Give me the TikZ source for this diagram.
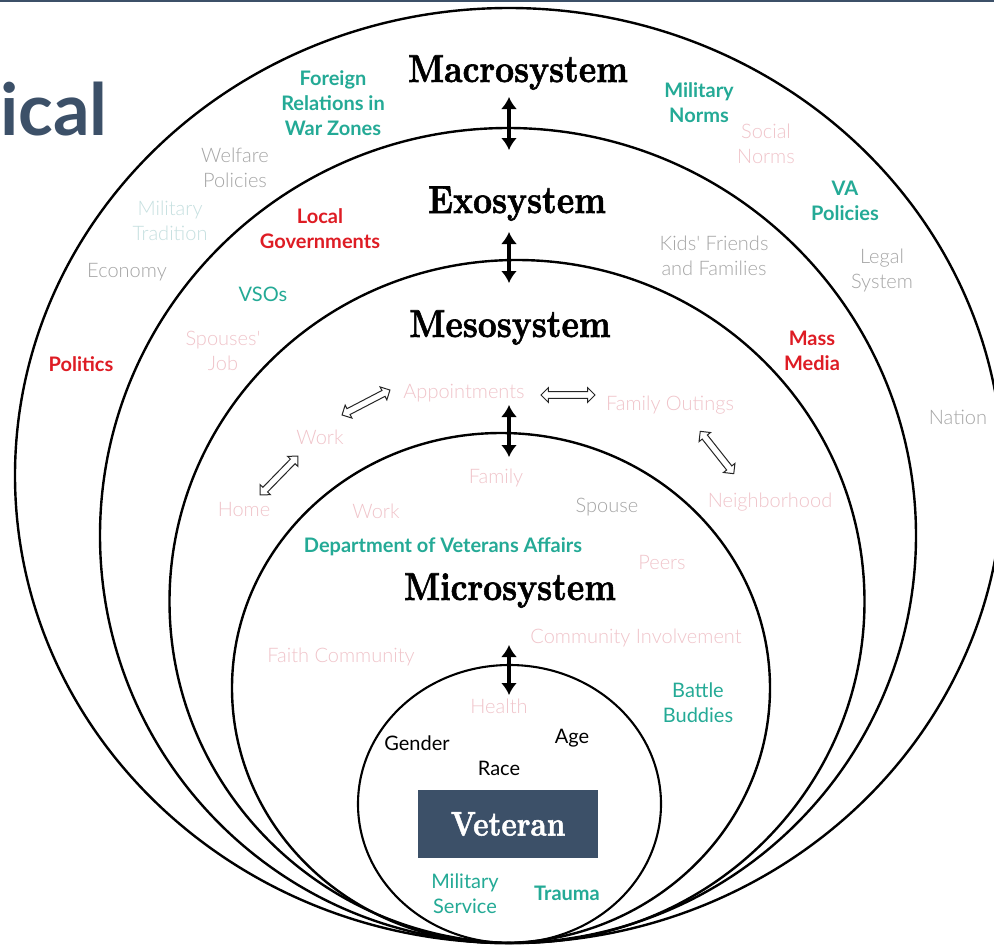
\documentclass[tikz,border=0pt]{standalone}
\usepackage{fontspec}
\usepackage{graphicx}
\usetikzlibrary{arrows.meta,shapes.arrows,calc}
\newfontfamily\lato{Lato}
\IfFontExistsTF{Lato Light}{\newfontfamily\latol{Lato Light}}{\newfontfamily\latol{Lato}}
\IfFontExistsTF{lmroman10-bold.otf}{\newfontfamily\dispf{lmroman10-bold.otf}[FakeBold=1.6]}{\newfontfamily\dispf{Liberation Serif Bold}}
\definecolor{slate}{RGB}{60,80,104}
\definecolor{tealc}{RGB}{36,170,150}
\definecolor{redc}{RGB}{222,28,36}
\definecolor{pinkc}{RGB}{240,196,202}
\definecolor{greyc}{RGB}{165,165,165}
\definecolor{mtc}{RGB}{198,224,224}
\newcommand{\ml}[1]{\begin{tabular}[t]{@{}c@{}}#1\end{tabular}}
\newcommand{\sysname}[1]{\scalebox{1}[1.18]{#1}}
\begin{document}
\begin{tikzpicture}[x=1pt,y=-1pt,
  ring/.style={draw=black,line width=2.4pt},
  lab/.style={anchor=base,inner sep=0pt,font=\latol\fontsize{20}{25}\selectfont},
  reg/.style={anchor=base,inner sep=0pt,font=\lato\fontsize{20}{25}\selectfont},
  bld/.style={anchor=base,inner sep=0pt,font=\lato\bfseries\fontsize{20}{25}\selectfont},
  sys/.style={anchor=base,inner sep=0pt,font=\dispf\fontsize{33}{33}\selectfont},
  bigarrow/.style={line width=4.8pt,{Latex[length=12pt,width=16pt]}-{Latex[length=12pt,width=16pt]}},
  hollow/.style={double arrow,draw=black!85,line width=1pt,fill=white,inner sep=2.8pt,
     double arrow head extend=4pt,minimum height=54pt}
]
\useasboundingbox (0,0) rectangle (994,946);
\fill[white] (0,0) rectangle (994,946);
\fill[slate] (0,0) rectangle (994,2);

% rings
\draw[ring] (509,475.5) ellipse [x radius=494, y radius=467.5];
\draw[ring] (508,535.5) ellipse [x radius=408, y radius=407.5];
\draw[ring] (517,601.5) ellipse [x radius=347.5, y radius=341.5];
\draw[ring] (501,688) ellipse [x radius=269, y radius=255];
\draw[ring,line width=2.1pt] (509.5,804) ellipse [x radius=151.5, y radius=139];

% title fragment
\node[anchor=base east,inner sep=0pt,text=slate,font=\lato\bfseries\fontsize{72}{72}\selectfont] (title) at (108,135) {ical};

% system names
\node[sys] (macro) at (518,82) {\sysname{Macrosystem}};
\node[sys] (exo) at (517,213) {\sysname{Exosystem}};
\node[sys] (meso) at (510,337) {\sysname{Mesosystem}};
\node[sys] (micro) at (510,600) {\sysname{Microsystem}};

% macrosystem ring
\node[bld,text=tealc] (foreign) at (333,85) {\ml{Foreign\\Relations in\\War Zones}};
\node[lab,text=greyc] (welfare) at (235,162) {\ml{Welfare\\Policies}};
\node[lab,text=mtc] (miltrad) at (170,215) {\ml{Military\\Tradition}};
\node[lab,text=greyc] (economy) at (127,277) {Economy};
\node[bld,text=redc] (politics) at (81,371) {Politics};
\node[bld,text=tealc] (milnorms) at (699,97) {\ml{Military\\Norms}};
\node[lab,text=pinkc] (socnorms) at (766,138) {\ml{Social\\Norms}};
\node[bld,text=tealc] (vapol) at (845,195) {\ml{VA\\Policies}};
\node[lab,text=greyc] (legal) at (882,263) {\ml{Legal\\System}};
\node[lab,text=greyc] (nation) at (958,424) {Nation};

% exosystem ring
\node[bld,text=redc] (localgov) at (320,223) {\ml{Local\\Governments}};
\node[reg,text=tealc] (vsos) at (263,301) {VSOs};
\node[lab,text=greyc] (kids) at (714,250) {\ml{Kids' Friends\\and Families}};
\node[lab,text=pinkc] (spjob) at (223,345) {\ml{Spouses'\\Job}};
\node[bld,text=redc] (media) at (812,345) {\ml{Mass\\Media}};

% mesosystem ring
\node[lab,text=pinkc] (appts) at (464,398) {Appointments};
\node[lab,text=pinkc] (workA) at (320,444) {Work};
\node[lab,text=pinkc] (home) at (244,516) {Home};
\node[lab,text=pinkc] (outings) at (670,410) {Family Outings};
\node[lab,text=pinkc] (neigh) at (770,507) {Neighborhood};

% microsystem ring
\node[lab,text=pinkc] (family) at (496,483) {Family};
\node[lab,text=pinkc] (workB) at (376,518) {Work};
\node[lab,text=greyc] (spouse) at (607,512) {Spouse};
\node[bld,text=tealc] (dva) at (443,552) {Department of Veterans Affairs};
\node[lab,text=pinkc] (peers) at (662,569) {Peers};
\node[lab,text=pinkc] (faith) at (341,662) {Faith Community};
\node[lab,text=pinkc] (comm) at (636,643) {Community Involvement};
\node[reg,text=tealc] (battle) at (698,697) {\ml{Battle\\Buddies}};

% individual
\node[lab,text=pinkc] (health) at (499,713) {Health};
\node[reg,text=black] (gender) at (417,750) {Gender};
\node[reg,text=black] (age) at (572,743) {Age};
\node[reg,text=black] (race) at (499,775) {Race};
\node[fill=slate,minimum width=180pt,minimum height=68pt,inner sep=0pt,text=white,
      font=\dispf\fontsize{29}{29}\selectfont] (veteran) at (508,824) {\sysname{Veteran}};
\node[reg,text=tealc] (milserv) at (465,888) {\ml{Military\\Service}};
\node[bld,text=tealc] (trauma) at (567,900) {Trauma};

% big double arrows between levels
\coordinate (a1t) at (509,97);  \coordinate (a1b) at (509,150);
\coordinate (a2t) at (509,232); \coordinate (a2b) at (509,283);
\coordinate (a3t) at (509,405); \coordinate (a3b) at (509,457);
\coordinate (a4t) at (509,645); \coordinate (a4b) at (509,695);
\draw[bigarrow] (a1t) -- (a1b);
\draw[bigarrow] (a2t) -- (a2b);
\draw[bigarrow] (a3t) -- (a3b);
\draw[bigarrow] (a4t) -- (a4b);

% hollow arrows in the mesosystem
\coordinate (h1a) at (342,415); \coordinate (h1b) at (390,390);
\coordinate (h2a) at (260,495); \coordinate (h2b) at (298,456);
\coordinate (h3a) at (541,395); \coordinate (h3b) at (595,395);
\coordinate (h4a) at (700,431); \coordinate (h4b) at (734,474);
\path let \p1=($(h1b)-(h1a)$), \n1={atan2(\y1,\x1)} in
  node[hollow,rotate=\n1] (arrWA) at ($(h1a)!0.5!(h1b)$) {};
\path let \p1=($(h2b)-(h2a)$), \n1={atan2(\y1,\x1)} in
  node[hollow,rotate=\n1] (arrHW) at ($(h2a)!0.5!(h2b)$) {};
\path let \p1=($(h3b)-(h3a)$), \n1={atan2(\y1,\x1)} in
  node[hollow,rotate=\n1] (arrAF) at ($(h3a)!0.5!(h3b)$) {};
\path let \p1=($(h4b)-(h4a)$), \n1={atan2(\y1,\x1)} in
  node[hollow,rotate=\n1] (arrFN) at ($(h4a)!0.5!(h4b)$) {};
\end{tikzpicture}
\end{document}
